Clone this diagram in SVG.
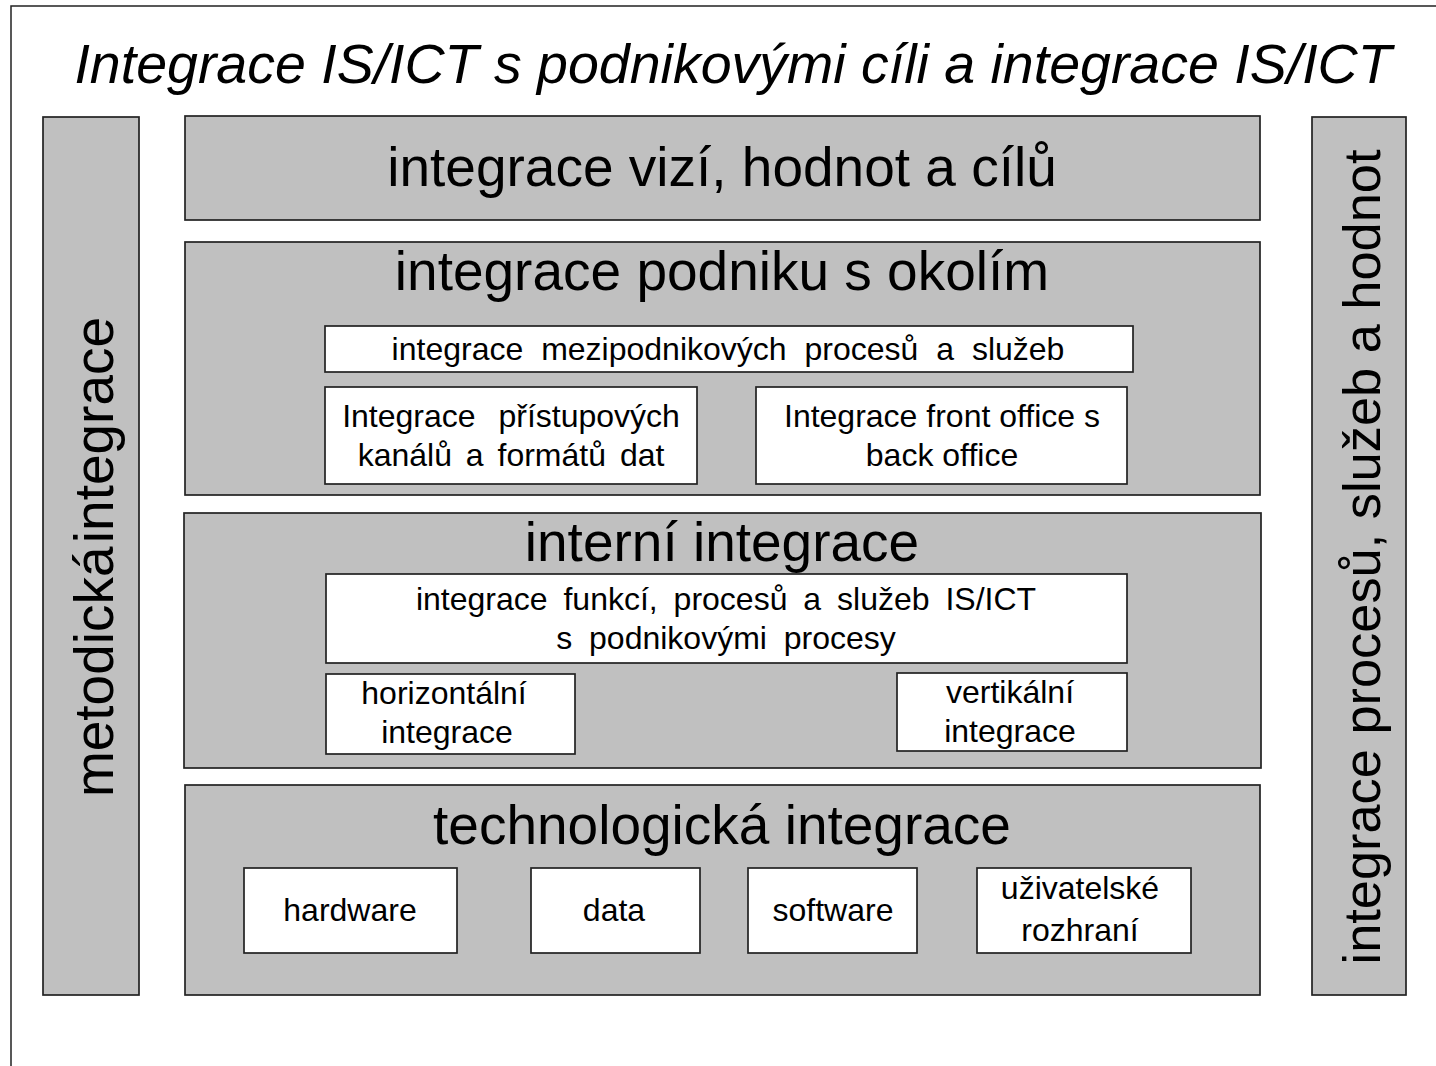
<svg xmlns="http://www.w3.org/2000/svg" width="1436" height="1066" viewBox="0 0 1436 1066">
  <style>
    .frame { fill: #ffffff; stroke: #222222; stroke-width: 1.5; }
    .band { fill: #c0c0c0; stroke: #222222; stroke-width: 1.7; }
    .cell { fill: #ffffff; stroke: #222222; stroke-width: 1.7; }
    text { font-family: "Liberation Sans", Arial, sans-serif; fill: #000000; }
    .title { font-size: 55.5px; font-style: italic; text-anchor: middle; }
    .head { font-size: 55px; text-anchor: middle; }
    .side { font-size: 55px; text-anchor: middle; }
    .lbl { font-size: 32px; text-anchor: middle; }
  </style>

  <rect width="1436" height="1066" fill="#ffffff"/>
  <!-- outer frame (open towards right and bottom edges) -->
  <rect class="frame" x="11" y="6" width="1440" height="1080"/>

  <text class="title" x="733" y="83">Integrace IS/ICT s podnikovými cíli a integrace IS/ICT</text>

  <g id="metodicka-integrace">
    <rect class="band" x="43" y="117" width="96" height="878"/>
    <text class="side" transform="translate(113,557) rotate(-90)" word-spacing="-12">metodická integrace</text>
  </g>

  <g id="integrace-procesu">
    <rect class="band" x="1312" y="117" width="94" height="878"/>
    <text class="side" style="font-size:52px" transform="translate(1380,557) rotate(-90)" textLength="815" lengthAdjust="spacingAndGlyphs">integrace procesů, služeb a hodnot</text>
  </g>

  <g id="vize-hodnoty-cile">
    <rect class="band" x="185" y="116" width="1075" height="104"/>
    <text class="head" x="722" y="186">integrace vizí, hodnot a cílů</text>
  </g>

  <g id="podnik-okoli">
    <rect class="band" x="185" y="242" width="1075" height="253"/>
    <text class="head" x="722" y="290">integrace podniku s okolím</text>
    <g id="mezipodnikove-procesy">
      <rect class="cell" x="325" y="326" width="808" height="46"/>
      <text class="lbl" x="728" y="360" word-spacing="9">integrace mezipodnikových procesů a služeb</text>
    </g>
    <g id="pristupove-kanaly">
      <rect class="cell" x="325" y="387" width="372" height="97"/>
      <text class="lbl" x="511" y="427" word-spacing="14">Integrace přístupových</text>
      <text class="lbl" x="511" y="466" word-spacing="5">kanálů a formátů dat</text>
    </g>
    <g id="front-back-office">
      <rect class="cell" x="756" y="387" width="371" height="97"/>
      <text class="lbl" x="942" y="427">Integrace front office s</text>
      <text class="lbl" x="942" y="466">back office</text>
    </g>
  </g>

  <g id="interni-integrace">
    <rect class="band" x="184" y="513" width="1077" height="255"/>
    <text class="head" x="722" y="561">interní integrace</text>
    <g id="funkce-procesy-sluzby">
      <rect class="cell" x="326" y="574" width="801" height="89"/>
      <text class="lbl" x="726" y="610" word-spacing="7">integrace funkcí, procesů a služeb IS/ICT</text>
      <text class="lbl" x="726" y="649" word-spacing="8">s podnikovými procesy</text>
    </g>
    <g id="horizontalni">
      <rect class="cell" x="326" y="674" width="249" height="80"/>
      <text class="lbl" x="444" y="704">horizontální</text>
      <text class="lbl" x="447" y="743">integrace</text>
    </g>
    <g id="vertikalni">
      <rect class="cell" x="897" y="673" width="230" height="78"/>
      <text class="lbl" x="1010" y="703">vertikální</text>
      <text class="lbl" x="1010" y="742">integrace</text>
    </g>
  </g>

  <g id="technologicka-integrace">
    <rect class="band" x="185" y="785" width="1075" height="210"/>
    <text class="head" x="722" y="844">technologická integrace</text>
    <g id="hardware">
      <rect class="cell" x="244" y="868" width="213" height="85"/>
      <text class="lbl" x="350" y="921">hardware</text>
    </g>
    <g id="data">
      <rect class="cell" x="531" y="868" width="169" height="85"/>
      <text class="lbl" x="614" y="921">data</text>
    </g>
    <g id="software">
      <rect class="cell" x="748" y="868" width="169" height="85"/>
      <text class="lbl" x="833" y="921">software</text>
    </g>
    <g id="uzivatelske-rozhrani">
      <rect class="cell" x="977" y="868" width="214" height="85"/>
      <text class="lbl" x="1080" y="899">uživatelské</text>
      <text class="lbl" x="1080" y="941">rozhraní</text>
    </g>
  </g>

  <g id="connectors"/>
</svg>
